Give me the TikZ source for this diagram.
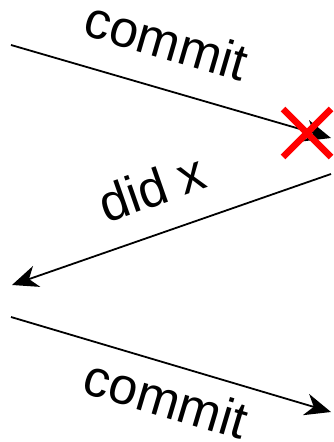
\documentclass[tikz,border=0pt]{standalone}
\usepackage{fontspec}
\setmainfont{Liberation Sans}
\usetikzlibrary{arrows.meta}
\begin{document}
\begin{tikzpicture}[x=1bp,y=-1bp,
  msg/.style={draw, line width=1.8bp, -{Stealth[length=26bp,width=22bp,inset=8bp]}},
  lbl/.style={font=\fontsize{52}{56}\selectfont, sloped, inner sep=0pt},
  cross/.style={draw=red, line width=6.5bp}]
\useasboundingbox (0,0) rectangle (333,442);
\coordinate (a1) at (11,45);
\coordinate (b1) at (331,138);
\coordinate (a2) at (331,174);
\coordinate (b2) at (12,285);
\coordinate (a3) at (11,317);
\coordinate (b3) at (331,412);
\coordinate (x1) at (283,109);
\coordinate (x2) at (331,157);
\coordinate (x3) at (283,157);
\coordinate (x4) at (331,109);
\draw[msg] (a1) -- node[lbl, above=28bp, pos=0.445] {commit} (b1);
\draw[msg] (a2) -- node[lbl, above=26bp, pos=0.515] {did x} (b2);
\draw[msg] (a3) -- node[lbl, below=14bp, pos=0.515] {commit} (b3);
\draw[cross] (x1) -- (x2);
\draw[cross] (x3) -- (x4);
\end{tikzpicture}
\end{document}
